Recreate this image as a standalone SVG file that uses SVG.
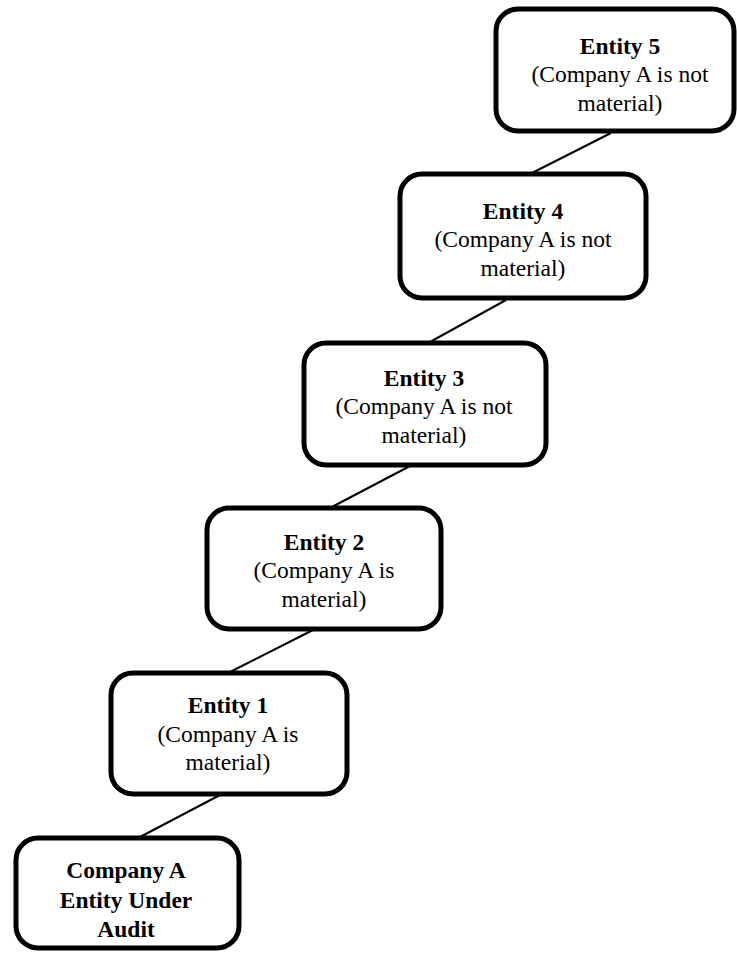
<svg xmlns="http://www.w3.org/2000/svg" width="737" height="953" viewBox="0 0 737 953">
<style>
.box{fill:#fff;stroke:#000;stroke-width:5}
.t{font-family:"Liberation Serif","Times New Roman",serif;font-size:23.5px;text-anchor:middle;fill:#000}
.b{font-weight:bold}
.conn line{stroke:#000;stroke-width:2}
</style>
<rect width="737" height="953" fill="#fff"/>
<g class="conn" id="connectors">
<line x1="611" y1="133" x2="532" y2="173"/>
<line x1="506" y1="300" x2="430" y2="342"/>
<line x1="410" y1="466" x2="330" y2="508"/>
<line x1="313" y1="630" x2="230" y2="672"/>
<line x1="220" y1="795" x2="140" y2="837"/>
</g>
<g id="entity5">
<rect class="box" x="496" y="9" width="238" height="122" rx="22"/>
<text class="t b" x="620" y="54">Entity 5</text>
<text class="t" x="620" y="82">(Company A is not</text>
<text class="t" x="620" y="111">material)</text>
</g>
<g id="entity4">
<rect class="box" x="400" y="174" width="246" height="124" rx="22"/>
<text class="t b" x="523" y="219">Entity 4</text>
<text class="t" x="523" y="247">(Company A is not</text>
<text class="t" x="523" y="276">material)</text>
</g>
<g id="entity3">
<rect class="box" x="304" y="343" width="242" height="122" rx="22"/>
<text class="t b" x="424" y="386">Entity 3</text>
<text class="t" x="424" y="414">(Company A is not</text>
<text class="t" x="424" y="443">material)</text>
</g>
<g id="entity2">
<rect class="box" x="207" y="508" width="234" height="121" rx="22"/>
<text class="t b" x="324" y="550">Entity 2</text>
<text class="t" x="324" y="578">(Company A is</text>
<text class="t" x="324" y="607">material)</text>
</g>
<g id="entity1">
<rect class="box" x="111" y="673" width="236" height="121" rx="22"/>
<text class="t b" x="228" y="713">Entity 1</text>
<text class="t" x="228" y="742">(Company A is</text>
<text class="t" x="228" y="770">material)</text>
</g>
<g id="companyA">
<rect class="box" x="16" y="838" width="223" height="110" rx="22"/>
<text class="t b" x="126" y="878">Company A</text>
<text class="t b" x="126" y="908">Entity Under</text>
<text class="t b" x="126" y="937">Audit</text>
</g>
</svg>
